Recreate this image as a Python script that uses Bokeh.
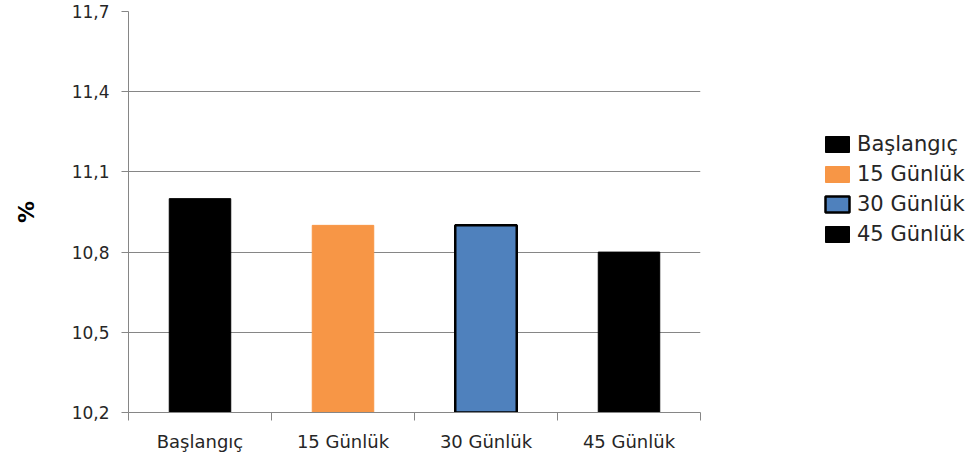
from bokeh.plotting import figure
from bokeh.models import (ColumnDataSource, Range1d, LinearAxis,
                          FixedTicker, CustomJSTickFormatter, Legend, LegendItem)
from bokeh.embed import file_html
from bokeh.resources import INLINE

# Measurement periods and their percentage values
categories = ["Başlangıç", "15 Günlük", "30 Günlük", "45 Günlük"]
values = [11.0, 10.9, 10.9, 10.8]
fill_colors = ["#000000", "#F79646", "#4F81BD", "#000000"]
outline_colors = ["#000000", "#F79646", "#000000", "#000000"]
outline_widths = [1, 1, 2.5, 1]
y_ticks = [10.2, 10.5, 10.8, 11.1, 11.4, 11.7]
y_min, y_max = 10.2, 11.7

FONT = "DejaVu Sans"
GRAY = "#868686"
TEXT = "#262626"

n = len(categories)
centers = [i + 0.5 for i in range(n)]

src = ColumnDataSource(dict(x=centers, cat=categories, val=values, fill=fill_colors,
                            line=outline_colors, lw=outline_widths))

p = figure(frame_width=572, frame_height=401, x_range=Range1d(0, n),
           y_range=Range1d(y_min, y_max), output_backend="svg",
           toolbar_location=None, x_axis_location=None,
           min_border_left=128, min_border_right=0,
           min_border_top=11, min_border_bottom=50)
p.outline_line_color = None
p.background_fill_color = "white"
p.border_fill_color = "white"

bars = p.vbar(x="x", top="val", bottom=y_min, width=0.43, source=src,
              fill_color="fill", line_color="line", line_width="lw")

# value axis
yax = p.yaxis[0]
yax.ticker = FixedTicker(ticks=y_ticks)
yax.formatter = CustomJSTickFormatter(code="return tick.toFixed(1).replace('.', ',');")
yax.axis_line_color = GRAY
yax.major_tick_line_color = GRAY
yax.major_tick_out = 7
yax.major_tick_in = 0
yax.minor_tick_line_color = None
yax.major_label_text_font = FONT
yax.major_label_text_font_size = "17px"
yax.major_label_text_color = TEXT
yax.major_label_standoff = 12
yax.axis_label = "%"
yax.axis_label_text_font = "DejaVu Sans"
yax.axis_label_text_font_style = "bold"
yax.axis_label_text_font_size = "22px"
yax.axis_label_text_color = "#000000"
yax.axis_label_standoff = 30

p.ygrid.grid_line_color = GRAY
p.ygrid.grid_line_width = 1
p.xgrid.grid_line_color = None

# axis line with ticks at category boundaries
eax = LinearAxis(ticker=FixedTicker(ticks=list(range(n + 1))),
                 formatter=CustomJSTickFormatter(code="return '';"),
                 major_label_text_font_size="1px", major_label_standoff=0,
                 axis_line_color=GRAY, major_tick_line_color=GRAY,
                 major_tick_out=8, major_tick_in=0, minor_tick_line_color=None)

# category names under each bar
cax = LinearAxis(ticker=FixedTicker(ticks=centers),
                 major_label_overrides={c: name for c, name in zip(centers, categories)},
                 axis_line_color=None, major_tick_line_color=None,
                 minor_tick_line_color=None,
                 major_label_text_font=FONT, major_label_text_font_size="18px",
                 major_label_text_color=TEXT, major_label_standoff=4)
p.add_layout(eax, "below")
p.add_layout(cax, "below")

legend = Legend(items=[LegendItem(label=c, renderers=[bars], index=i)
                       for i, c in enumerate(categories)],
                location=(122, 166), padding=0, margin=0,
                border_line_color=None, background_fill_alpha=0,
                glyph_width=30, glyph_height=20, label_height=20,
                spacing=6, label_standoff=5,
                label_text_font=FONT, label_text_font_size="21px",
                label_text_color=TEXT)
p.add_layout(legend, "right")

open("out.html", "w").write(file_html(p, INLINE))
